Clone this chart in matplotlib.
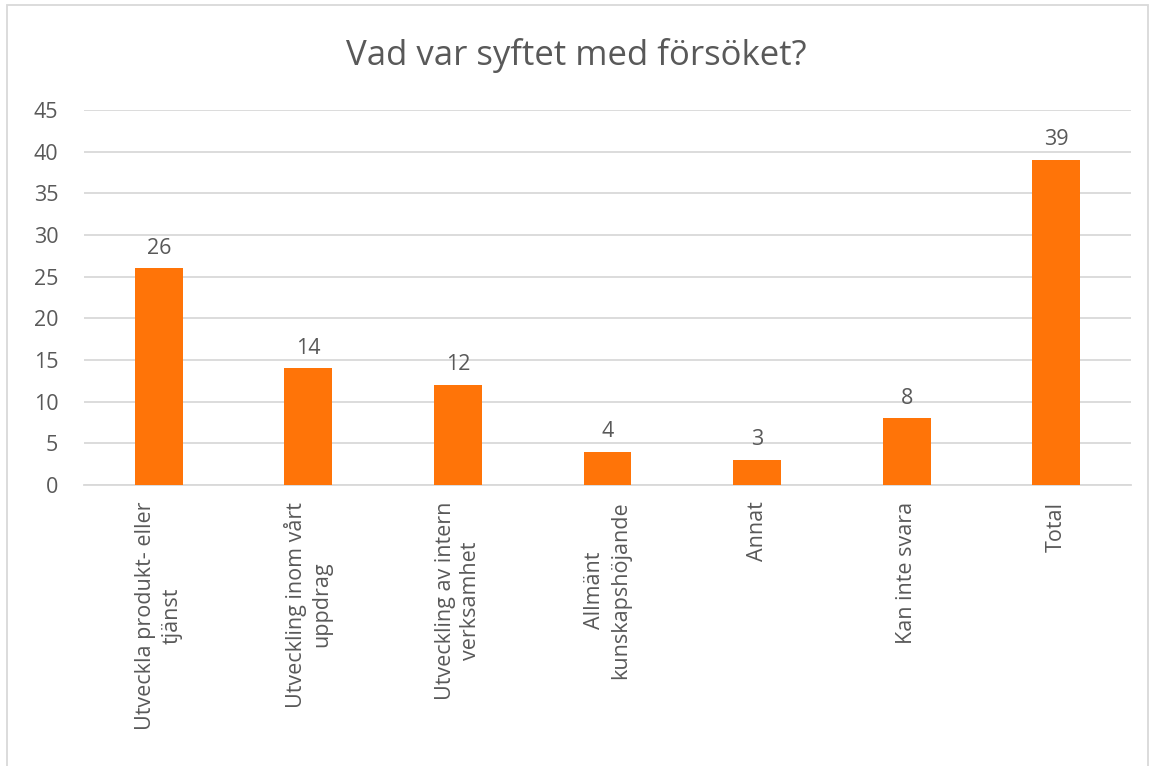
"""
Vad var syftet med försöket? - stapeldiagram
"""

import matplotlib
matplotlib.use("Agg")
import matplotlib.pyplot as plt
from matplotlib.patches import Rectangle

categories = ["Utveckla produkt- eller\ntjänst",
              "Utveckling inom vårt\nuppdrag",
              "Utveckling av intern\nverksamhet",
              "Allmänt\nkunskapshöjande",
              "Annat",
              "Kan inte svara",
              "Total"]
values = [26, 14, 12, 4, 3, 8, 39]
yticks = [0, 5, 10, 15, 20, 25, 30, 35, 40, 45]

ORANGE = "#FF7408"
TEXT = "#595959"

plt.rcParams["font.family"] = ["Open Sans", "DejaVu Sans"]

fig = plt.figure(figsize=(11.52, 7.66), dpi=100)
ax = fig.add_axes([0.0729, 0.3668, 0.9089, 0.4896])

x = range(len(categories))
bars = ax.bar(x, values, width=0.32, color=ORANGE, zorder=3)

for b, v in zip(bars, values):
  ax.annotate(str(v), (b.get_x() + b.get_width() / 2, v),
              xytext=(0, 7), textcoords="offset points",
              ha="center", va="bottom", fontsize=15.5, color=TEXT)

ax.set_xlim(-0.5, len(categories) - 0.5)
ax.set_ylim(0, 45)
ax.set_yticks(yticks)
ax.yaxis.grid(True, color="#D9D9D9", linewidth=1.3, zorder=0)
ax.set_xticks(list(x))
ax.set_xticklabels(categories, rotation=90, ha="center", va="top",
                   multialignment="center", linespacing=1.3)
ax.tick_params(axis="both", length=0, labelsize=15.5, labelcolor=TEXT)
ax.tick_params(axis="x", pad=12)
ax.tick_params(axis="y", pad=18.5)
for s in ["top", "right", "left"]:
  ax.spines[s].set_visible(False)
ax.spines["bottom"].set_color("#D9D9D9")
ax.spines["bottom"].set_linewidth(1.3)

fig.text(0.5, 0.928, "Vad var syftet med försöket?", ha="center",
         va="center", fontsize=25, color=TEXT)

# light chart border
fig.patches.append(Rectangle((7 / 1152, -0.01), 1141 / 1152, 1 - 5 / 766 + 0.01,
                             transform=fig.transFigure, fill=False,
                             edgecolor="#D9D9D9", linewidth=1.3))

fig.savefig("out.png", dpi=100)
